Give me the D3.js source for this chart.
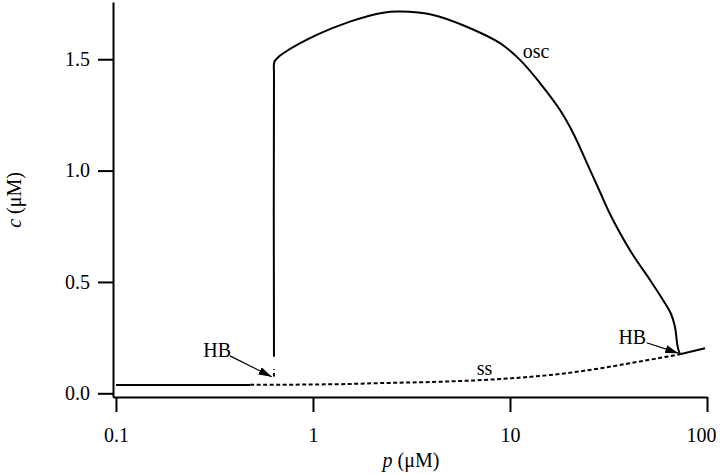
<!DOCTYPE html>
<html>
<head>
<meta charset="utf-8">
<script src="https://cdn.jsdelivr.net/npm/d3@7"></script>
<style>
  body { margin: 0; background: #fff; }
  text { font-family: "Liberation Serif", "Times New Roman", serif; fill: #000; }
</style>
</head>
<body>
<div id="vis"></div>
<script>
// tick values
const xMajor = [0.1, 1, 10, 100];
const xMinor = [0.2, 0.3, 0.4, 0.5, 0.6, 0.7, 0.8, 0.9,
                2, 3, 4, 5, 6, 7, 8, 9,
                20, 30, 40, 50, 60, 70, 80, 90];
const yTicks = [0, 0.5, 1.0, 1.5];

// steady state branch [p, c]
const ssLow = [[0.1, 0.037], [0.48, 0.037]];
const ssUnstable = [[0.48, 0.038], [1.37, 0.041], [2, 0.045], [4.41, 0.052], [8.9, 0.064],
                    [17.9, 0.087], [28.6, 0.112], [45, 0.142], [72.9, 0.175]];
const ssHigh = [[72.9, 0.175], [97.7, 0.202]];

// oscillation maximum [p, c]
const oscStable = [[0.634, 0.164], [0.634, 1.43], [0.637, 1.488], [0.664, 1.508], [0.707, 1.527],
                   [1.044, 1.609], [1.541, 1.669], [2.275, 1.709], [2.764, 1.714], [4.08, 1.699],
                   [6.03, 1.646], [8.9, 1.572], [11.24, 1.497], [14.2, 1.393], [17.94, 1.272],
                   [20.88, 1.170], [25.48, 1.003], [28.64, 0.904], [32.18, 0.805], [36.17, 0.720],
                   [42.1, 0.621], [51.37, 0.509], [59.8, 0.419], [65.7, 0.356], [68.8, 0.298],
                   [70.86, 0.212], [72.9, 0.175]];
const oscUnstable = [[0.634, 0.075], [0.634, 0.108]];

// annotations
const labels = [
  {t: "osc", p: 11.6, c: 1.504},
  {t: "ss", p: 6.78, c: 0.082},
  {t: "HB", p: 0.2775, c: 0.163},
  {t: "HB", p: 35.5, c: 0.221}
];
const arrows = [
  {from: [0.379, 0.168], to: [0.617, 0.0745]},
  {from: [49.4, 0.227], to: [71.5, 0.18]}
];

var W = 720, H = 474;

var svg = d3.select("#vis").append("svg")
  .attr("width", W)
  .attr("height", H);

var x = d3.scaleLog().domain([0.0966, 100]).range([113, 707]);
var y = d3.scaleLinear().domain([-0.0166, 1.757]).range([397, 2]);

svg.append("defs").append("marker")
  .attr("id", "head")
  .attr("markerUnits", "userSpaceOnUse")
  .attr("viewBox", "0 0 13 8")
  .attr("refX", 13)
  .attr("refY", 4)
  .attr("markerWidth", 13)
  .attr("markerHeight", 8)
  .attr("orient", "auto")
  .append("path")
  .attr("d", "M0,0 L13,4 L0,8 Z")
  .attr("fill", "#000");

// axes
var gx = svg.append("g").attr("transform", "translate(0,397)");
gx.call(d3.axisBottom(x).tickValues(xMinor).tickFormat("").tickSize(8).tickSizeOuter(0));
gx.call(d3.axisBottom(x).tickValues(xMajor).tickFormat(d3.format("")).tickSize(15).tickSizeOuter(0).tickPadding(16));
// last label sits against the right edge
gx.selectAll(".tick text").filter(d => d === 100).attr("dx", "-6");

var gy = svg.append("g").attr("transform", "translate(113,0)");
gy.call(d3.axisLeft(y).tickValues(yTicks).tickFormat(d3.format(".1f")).tickSize(15).tickSizeOuter(0).tickPadding(8));

svg.selectAll(".domain, .tick line")
  .attr("stroke", "#000")
  .attr("stroke-width", 2);
svg.selectAll(".tick text")
  .style("font-size", "20px")
  .style("font-family", "'Liberation Serif', 'Times New Roman', serif");

// axis titles
var xt = svg.append("text")
  .attr("x", 411)
  .attr("y", 467)
  .attr("text-anchor", "middle")
  .style("font-size", "20px");
xt.append("tspan").style("font-style", "italic").text("p");
xt.append("tspan").text(" (\u03bcM)");

var yt = svg.append("text")
  .attr("transform", "translate(21,200) rotate(-90)")
  .attr("text-anchor", "middle")
  .style("font-size", "20px");
yt.append("tspan").style("font-style", "italic").text("c");
yt.append("tspan").text(" (\u03bcM)");

// curves
var line = d3.line().x(d => x(d[0])).y(d => y(d[1]));
var curvy = d3.line().x(d => x(d[0])).y(d => y(d[1])).curve(d3.curveCatmullRom.alpha(0.5));

function draw(data, gen, dash) {
  svg.append("path")
    .datum(data)
    .attr("d", gen)
    .attr("fill", "none")
    .attr("stroke", "#000")
    .attr("stroke-width", 2)
    .attr("stroke-dasharray", dash || null);
}

draw(ssLow, line);
draw(ssUnstable, d3.line().x(d => x(d[0])).y(d => y(d[1])).curve(d3.curveMonotoneX), "4,2.5");
draw(ssHigh, line);
draw(oscStable, curvy);
draw(oscUnstable, line, "3.5,3");

// labels and arrows
svg.selectAll(".lab")
  .data(labels)
  .enter().append("text")
  .attr("class", "lab")
  .attr("x", d => x(d.p))
  .attr("y", d => y(d.c))
  .style("font-size", "20px")
  .text(d => d.t);

svg.selectAll(".arr")
  .data(arrows)
  .enter().append("line")
  .attr("class", "arr")
  .attr("x1", d => x(d.from[0]))
  .attr("y1", d => y(d.from[1]))
  .attr("x2", d => x(d.to[0]))
  .attr("y2", d => y(d.to[1]))
  .attr("stroke", "#000")
  .attr("stroke-width", 1.3)
  .attr("marker-end", "url(#head)");
</script>
</body>
</html>
